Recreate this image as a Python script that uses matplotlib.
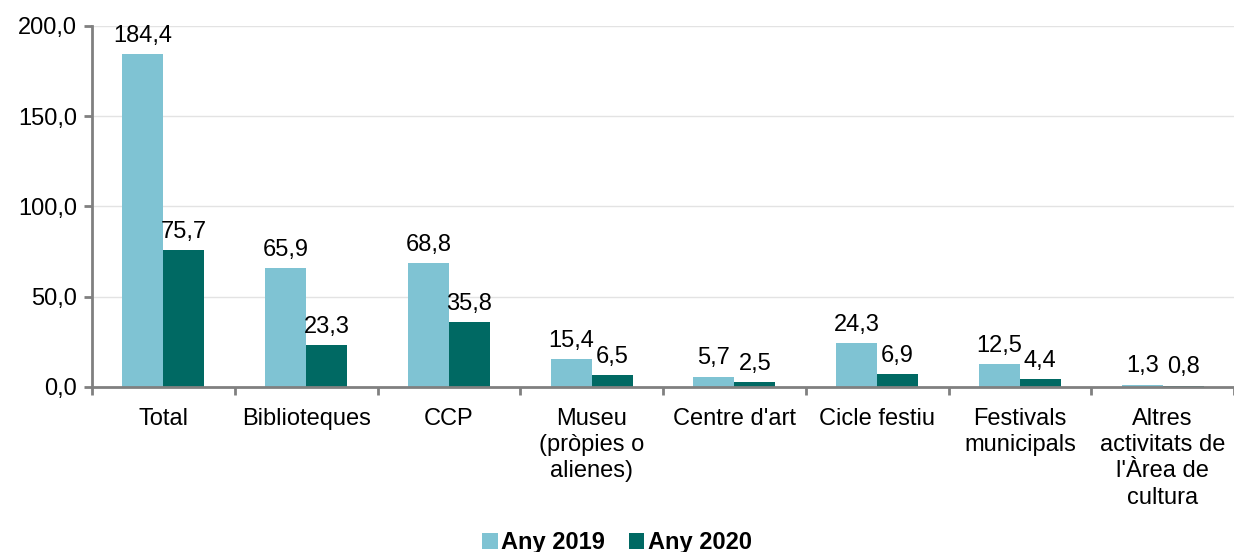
import matplotlib.pyplot as plt
import numpy as np
from matplotlib.ticker import FuncFormatter

plt.rcParams['font.family'] = ['Liberation Sans', 'DejaVu Sans']

categories = ['Total', 'Biblioteques', 'CCP', 'Museu\n(pròpies o\nalienes)', "Centre d'art",
              'Cicle festiu', 'Festivals\nmunicipals', "Altres\nactivitats de\nl'Àrea de\ncultura"]
any_2019 = [184.4, 65.9, 68.8, 15.4, 5.7, 24.3, 12.5, 1.3]
any_2020 = [75.7, 23.3, 35.8, 6.5, 2.5, 6.9, 4.4, 0.8]

c19 = '#7fc3d3'
c20 = '#006963'
axis_col = '#808080'
fs = 17

fig = plt.figure(figsize=(12.34, 5.52), dpi=100)
ax = fig.add_axes([0.0746, 0.299, 0.9254, 0.654])

x = np.arange(len(categories))
w = 0.287
b1 = ax.bar(x - w / 2, any_2019, w, color=c19, label='Any 2019')
b2 = ax.bar(x + w / 2, any_2020, w, color=c20, label='Any 2020')

def fmt(v):
    return f'{v:.1f}'.replace('.', ',')

for bars, vals in ((b1, any_2019), (b2, any_2020)):
    for r, v in zip(bars, vals):
        ax.text(r.get_x() + r.get_width() / 2, v + 4, fmt(v), ha='center', va='bottom', fontsize=fs)

ax.set_xlim(-0.5, len(categories) - 0.5)
ax.set_ylim(0, 200)
ax.set_yticks(np.arange(0, 201, 50))
ax.yaxis.set_major_formatter(FuncFormatter(lambda v, p: fmt(v)))
ax.grid(axis='y', color='#e3e3e3', linewidth=1)
ax.set_axisbelow(True)

ax.set_xticks(x)
ax.set_xticklabels(categories, fontsize=fs, linespacing=1.25)
ax.tick_params(axis='x', length=0, pad=15)
ax.set_xticks(np.arange(-0.5, len(categories), 1), minor=True)
ax.tick_params(axis='x', which='minor', length=6, width=2, color=axis_col, direction='out')
ax.tick_params(axis='y', labelsize=fs, length=6, width=2, color=axis_col, pad=5)

for s in ['top', 'right']:
    ax.spines[s].set_visible(False)
for s in ['left', 'bottom']:
    ax.spines[s].set_color(axis_col)
    ax.spines[s].set_linewidth(2)

fig.legend(handles=[b1, b2], loc='lower center', bbox_to_anchor=(0.5, -0.042), ncol=2, frameon=False,
           prop={'weight': 'bold', 'size': fs}, handlelength=0.65, handleheight=0.65,
           handletextpad=0.15, columnspacing=1.0)

fig.savefig('out.png', dpi=100)
